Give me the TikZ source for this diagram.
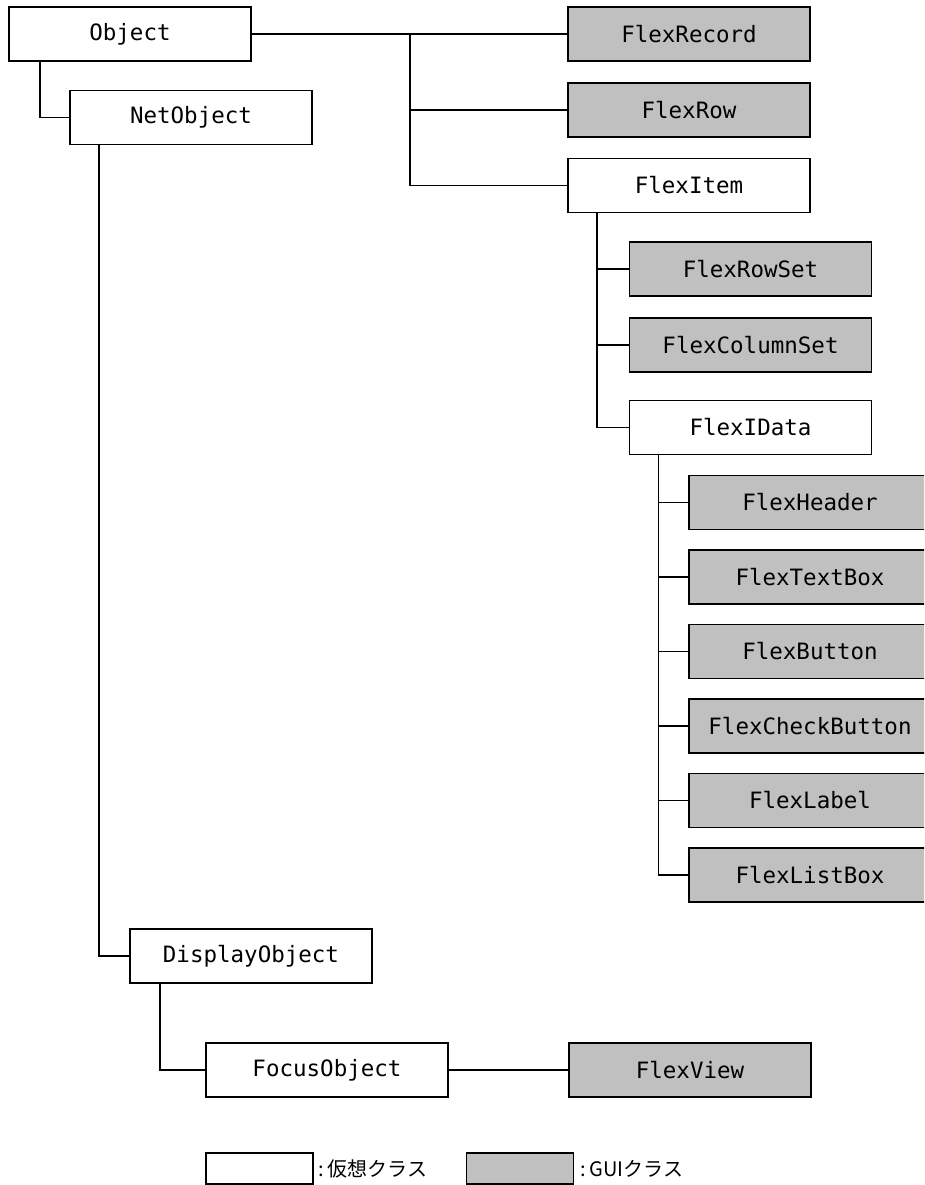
\documentclass[tikz,border=0pt]{standalone}
\usepackage{fontspec}
\newfontfamily\clsfont{DejaVu Sans Mono}
\newfontfamily\jpfont{Noto Sans CJK JP}
\definecolor{guigray}{RGB}{192,192,192}

\begin{document}
\begin{tikzpicture}[x=1pt, y=-1pt,
		cls/.style={draw, line width=1.8pt, fill=white, minimum width=242pt, minimum height=54pt,
			inner sep=0pt, font=\clsfont\fontsize{22.5}{26}\selectfont},
		gui/.style={cls, fill=guigray},
		legendbox/.style={line width=1.5pt, minimum width=107pt, minimum height=31pt},
		legendtext/.style={anchor=west, inner sep=0pt, font=\jpfont\fontsize{20}{24}\selectfont},
		link/.style={line width=1.6pt}]

	% рамка рисунка
	\useasboundingbox (0,0) rectangle (924,1185);
	\clip (0,0) rectangle (924,1185);

	% верхний уровень
	\node[cls] (obj) at (130,34)    {Object};
	\node[cls] (net) at (191,117.5) {NetObject};

	% ветка FlexItem
	\node[gui] (rec)  at (689,34)      {FlexRecord};
	\node[gui] (row)  at (689,110)     {FlexRow};
	\node[cls] (item) at (689,185.5)   {FlexItem};
	\node[gui] (rset) at (750.5,269)   {FlexRowSet};
	\node[gui] (cset) at (750.5,345)   {FlexColumnSet};
	\node[cls] (data) at (750.5,427.5) {FlexIData};

	% потомки FlexIData
	\foreach \n/\t [count=\i from 0] in {hdr/FlexHeader, tbox/FlexTextBox, btn/FlexButton,
			chk/FlexCheckButton, lbl/FlexLabel, lbox/FlexListBox} {
		\node[gui] (\n) at (810,502.5+74.5*\i) {\t};
		\draw[link] ([xshift=30pt]data.south west) |- (\n.west);
	}

	% ветка DisplayObject
	\node[cls] (disp)  at (251,956)  {DisplayObject};
	\node[cls] (focus) at (327,1070) {FocusObject};
	\node[gui] (view)  at (690,1070) {FlexView};

	% связи
	\draw[link] ([xshift=32pt]obj.south west) |- (net.west);
	\draw[link] (obj.east) -- (rec.west);
	\coordinate (fork) at (410,34);
	\draw[link] (fork) |- (row.west);
	\draw[link] (fork) |- (item.west);
	\foreach \n in {rset, cset, data}
		\draw[link] ([xshift=30pt]item.south west) |- (\n.west);
	\draw[link] ([xshift=30pt]net.south west) |- (disp.west);
	\draw[link] ([xshift=31pt]disp.south west) |- (focus.west);
	\draw[link] (focus) -- (view);

	% легенда
	\node[cls, legendbox] (lgv) at (259.5,1168.5) {};
	\node[legendtext] (lgvt) at ([xshift=5pt]lgv.east) {:\,仮想クラス};
	\node[gui, legendbox] (lgg) at (520,1168.5) {};
	\node[legendtext] (lggt) at ([xshift=6pt]lgg.east) {:\,GUIクラス};
\end{tikzpicture}
\end{document}
